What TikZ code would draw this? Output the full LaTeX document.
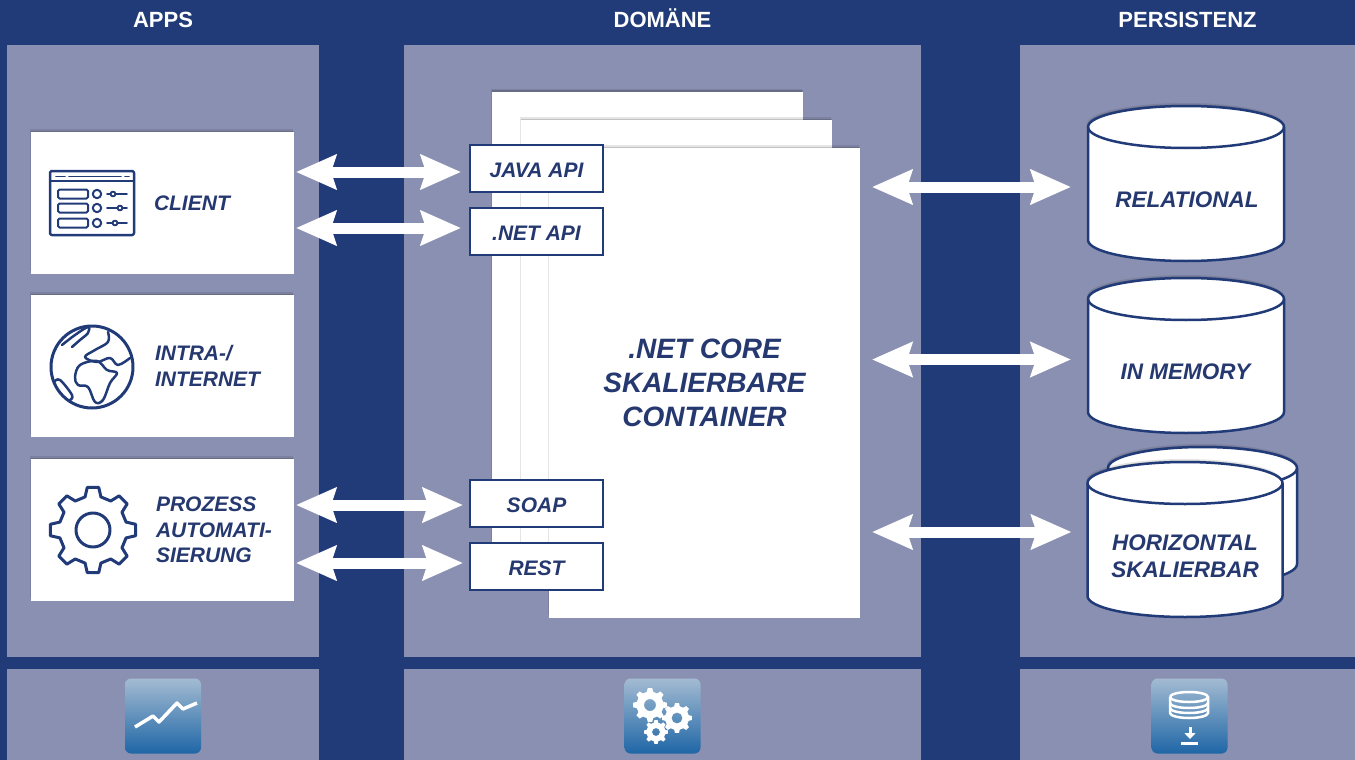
\documentclass[tikz,border=0pt]{standalone}
\usepackage{fontspec}
\setmainfont{Liberation Sans}
\usetikzlibrary{arrows.meta,calc,positioning,shadows}
\definecolor{navy}{HTML}{213A78}
\definecolor{panelgrey}{HTML}{8A90B1}
\definecolor{inkblue}{HTML}{25386F}
\definecolor{tiletop}{HTML}{A3BBD2}
\definecolor{tilemid}{HTML}{3A79AF}
\definecolor{tilelow}{HTML}{1F66A6}
\newcommand{\gearcog}[6]{%
  \path[#1, even odd rule] ($(#2)+({-0.3*360/#6}:#4)$)
    \foreach \k in {1,...,#6} {
      -- ($(#2)+({(\k-1-0.17)*360/#6}:#3)$)
      -- ($(#2)+({(\k-1+0.17)*360/#6}:#3)$)
      -- ($(#2)+({(\k-1+0.3)*360/#6}:#4)$)
      -- ($(#2)+({(\k-1+0.7)*360/#6}:#4)$)
    } -- cycle
    (#2) circle[radius=#5];}
\newcommand{\drum}[5]{%
  \draw[store, fill=white, softshadow] (#2-#4/2,#3+21) arc[start angle=180, end angle=0, x radius=#4/2*1pt, y radius=21pt]
    -- (#2+#4/2,#3+#5-21) arc[start angle=0, end angle=-180, x radius=#4/2*1pt, y radius=21pt] -- cycle;
  \draw[store] (#2-#4/2,#3+21) arc[start angle=180, end angle=360, x radius=#4/2*1pt, y radius=21pt];
  \node[rectangle, inner sep=0pt, anchor=north, minimum width=#4pt, minimum height=#5pt] (#1) at (#2,#3) {};}

\begin{document}
\begin{tikzpicture}[x=1pt, y=-1pt, outer sep=0pt,
    panel/.style={rectangle, fill=panelgrey, anchor=north west},
    head/.style={anchor=base, text=white, font=\bfseries\fontsize{22}{26}\selectfont},
    softshadow/.style={general shadow={shadow xshift=-1pt, shadow yshift=3pt, fill=black, opacity=.1},
      general shadow={shadow xshift=-.5pt, shadow yshift=1.5pt, fill=black, opacity=.15}},
    card/.style={rectangle, fill=white, softshadow, minimum width=263pt, minimum height=142pt},
    sheet/.style={rectangle, fill=white, softshadow, anchor=north west, minimum width=311pt},
    apibox/.style={rectangle, draw=navy, line width=2.5pt, fill=white, text=inkblue, minimum width=133pt, minimum height=47pt,
      text height=18pt, text depth=0pt, font=\bfseries\itshape\fontsize{21}{25}\selectfont},
    cardtext/.style={anchor=west, inner sep=0pt, align=left, text=inkblue, font=\bfseries\itshape\fontsize{21}{25.7}\selectfont},
    store/.style={draw=navy, line width=2.5pt, line join=round},
    storetext/.style={align=center, inner sep=0pt, text=inkblue, font=\bfseries\itshape\fontsize{22.5}{27}\selectfont},
    tile/.style={rectangle, rounded corners=6pt, top color=tiletop, middle color=tilemid, bottom color=tilelow, minimum width=76pt, minimum height=75pt},
    biarrow/.style={draw=white, line width=11pt, {Stealth[length=40pt,width=34pt,inset=5pt]}-{Stealth[length=40pt,width=34pt,inset=5pt]}},
    icon/.style={draw=navy, line width=2.5pt, line join=round, line cap=round},
    tileicon/.style={draw=white, line width=2.5pt, line join=round}]
    \path[use as bounding box, fill=navy] (0,0) rectangle (1355,760);

    \node[panel, minimum width=312pt, minimum height=612pt] (apps) at (7,45) {};
    \node[panel, minimum width=517pt, minimum height=612pt] (domain) at (404,45) {};
    \node[panel, minimum width=335pt, minimum height=612pt] (persist) at (1020,45) {};
    \node[panel, minimum width=312pt, minimum height=91pt] (appsfoot) at (7,669) {};
    \node[panel, minimum width=517pt, minimum height=91pt] (domainfoot) at (404,669) {};
    \node[panel, minimum width=335pt, minimum height=91pt] (persistfoot) at (1020,669) {};

    \node[head] (appshead) at (apps.north |- 0,28) {APPS};
    \node[head] (domainhead) at (domain.north |- 0,28) {DOMÄNE};
    \node[head] (persisthead) at (persist.north |- 0,28) {PERSISTENZ};

    \node[card] (client) at (162.5,203) {};
    \node[card, below=21pt of client] (intra) {};
    \node[card, below=22pt of intra] (prozess) {};
    \node[cardtext] (clientlabel) at (154,203) {CLIENT};
    \node[cardtext] (intralabel) at (155,366) {INTRA-/\\INTERNET};
    \node[cardtext] (prozesslabel) at (156,530) {PROZESS\\AUTOMATI-\\SIERUNG};

    \node[sheet, minimum height=478pt] (sheetback) at (492,92) {};
    \node[sheet, minimum height=450pt] (sheetmid) at (521,120) {};
    \node[sheet, minimum height=470pt, align=center, text=inkblue, font=\bfseries\itshape\fontsize{28}{34}\selectfont] (container) at (549,148) {.NET CORE\\SKALIERBARE\\CONTAINER};

    \node[apibox] (javaapi) at (536.5,168.5) {JAVA API};
    \node[apibox, below=16pt of javaapi] (netapi) {.NET API};
    \node[apibox] (soap) at (536.5,503.5) {SOAP};
    \node[apibox, below=16pt of soap] (rest) {REST};

    \drum{relational}{1186}{106}{196}{155}
    \drum{inmemory}{1186}{278}{196}{155}
    \drum{horizontalback}{1202.5}{447}{189}{138}
    \drum{horizontal}{1185}{462}{195}{155}
    \node[storetext] (relationallabel) at (1187,200) {RELATIONAL};
    \node[storetext] (inmemorylabel) at (1185.5,372) {IN MEMORY};
    \node[storetext] (horizontallabel) at (1185,556.5) {HORIZONTAL\\SKALIERBAR};

    \draw[biarrow, shorten <=2pt, shorten >=9pt] ([yshift=-3.5pt]client.east |- javaapi.center) -- ([yshift=-3.5pt]javaapi.west);
    \draw[biarrow, shorten <=2pt, shorten >=9pt] ([yshift=3.5pt]client.east |- netapi.center) -- ([yshift=3.5pt]netapi.west);
    \draw[biarrow, shorten <=2pt, shorten >=7pt] ([yshift=-1.5pt]prozess.east |- soap.center) -- ([yshift=-1.5pt]soap.west);
    \draw[biarrow, shorten <=2pt, shorten >=7pt] ([yshift=3.5pt]prozess.east |- rest.center) -- ([yshift=3.5pt]rest.west);
    \draw[biarrow, shorten <=12pt, shorten >=17pt] ([yshift=-3.5pt]container.east |- relational.center) -- ([yshift=-3.5pt]relational.west);
    \draw[biarrow, shorten <=12pt, shorten >=17pt] ([yshift=-4pt]container.east |- inmemory.center) -- ([yshift=-4pt]inmemory.west);
    \draw[biarrow, shorten <=12pt, shorten >=16pt] ([yshift=7.5pt]container.east |- horizontal.center) -- ([yshift=7.5pt]horizontal.west);

    \draw[icon, rounded corners=2pt] (50,171) rectangle (134,235);
    \draw[icon, line width=1.8pt] (50,181) -- (134,181);
    \draw[icon, line width=1.8pt] (56,176.5) -- (65,176.5) (69,176.5) -- (121,176.5) (125,176.5) -- (129,176.5);
    \foreach \rowy/\knobx in {194/113, 208/120, 223/115} {
      \draw[icon, line width=2pt, rounded corners=1.5pt] (58,\rowy-4.5) rectangle (88,\rowy+4.5);
      \draw[icon, line width=2pt] (97,\rowy) circle[radius=4.2];
      \draw[icon, line width=1.8pt] (107,\rowy) -- (127,\rowy);
      \draw[icon, line width=1.8pt, fill=white] (\knobx,\rowy) circle[radius=2.4];
    }

    \draw[icon, line width=3pt] (92,367) circle[radius=41];
    \draw[icon] plot[smooth cycle, tension=.6] coordinates {(75,377) (80,365) (97,361) (107,370) (117,373) (110,383) (103,400) (95,402) (88,387) (78,385)};
    \draw[icon] plot[smooth, tension=.6] coordinates {(108,332) (108,342) (95,350) (85,357) (97,362) (110,358) (118,365) (130,358)};
    \draw[icon] plot[smooth, tension=.6] coordinates {(62,345) (75,335) (88,327) (88,333) (80,340) (72,347)};
    \draw[icon] plot[smooth, tension=.6] coordinates {(54,382) (60,380) (72,395) (70,400)};

    \gearcog{icon, line width=3pt}{93,530}{43}{34}{17}{8}

    \node[tile] (trendtile) at (163,716) {};
    \node[tile] (geartile) at (662.5,716) {};
    \node[tile] (storetile) at (1189.5,716) {};

    \draw[tileicon, line width=3.5pt] (135,727) -- (153,716) -- (159,722) -- (177,703) -- (183,709) -- (197,703);

    \gearcog{fill=white}{650,705}{17}{13.5}{6}{8}
    \gearcog{fill=white}{677,718}{15}{12}{5.5}{8}
    \gearcog{fill=white}{656,732}{12}{9.5}{4}{8}

    \draw[tileicon] (1170,697) arc[start angle=180, end angle=540, x radius=19pt, y radius=5pt];
    \draw[tileicon] (1170,697) -- (1170,713) arc[start angle=180, end angle=360, x radius=19pt, y radius=5pt] -- (1208,697);
    \draw[tileicon] (1170,703) arc[start angle=180, end angle=360, x radius=19pt, y radius=5pt];
    \draw[tileicon] (1170,708) arc[start angle=180, end angle=360, x radius=19pt, y radius=5pt];
    \draw[tileicon, line width=3pt, -{Triangle[length=6pt,width=11pt]}] (1190,727) -- (1190,739);
    \draw[tileicon] (1181,743.5) -- (1198,743.5);
\end{tikzpicture}
\end{document}
